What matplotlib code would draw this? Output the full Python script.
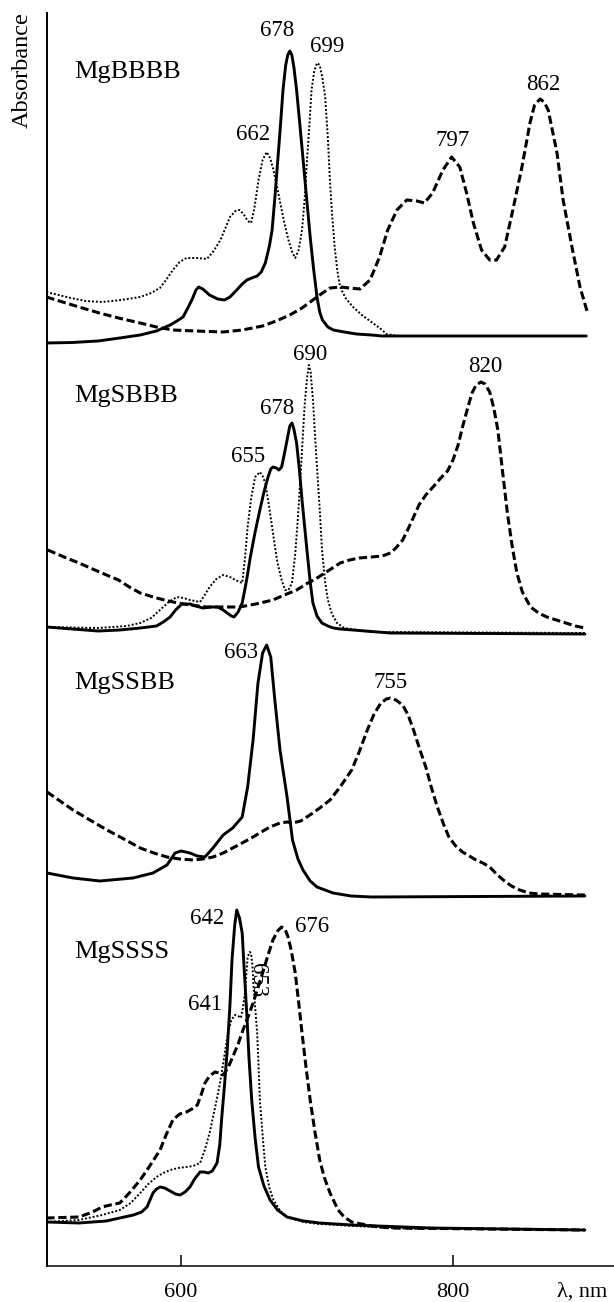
import matplotlib
matplotlib.use("Agg")
import matplotlib.pyplot as plt
import numpy as np

plt.rcParams['font.family'] = ['Liberation Serif', 'DejaVu Serif']

# ---------------- data (wavelength nm, relative absorbance) ----------------
compounds = ["MgBBBB", "MgSBBB", "MgSSBB", "MgSSSS"]

# MgBBBB
p1_solid_wl = [501, 520, 539, 555, 570, 582, 592, 597, 601.5, 605, 608, 611, 613, 616, 621, 627, 632, 636, 641, 645, 648.5, 652, 656, 659, 662, 665, 667, 669, 671, 673, 675, 677, 678.5, 680, 681.5, 683, 685, 687.5, 690, 692.5, 695, 697.5, 700, 702, 704, 708, 712, 720, 729, 740, 748, 898]
p1_solid_ab = [0.00, 0.005, 0.02, 0.05, 0.08, 0.12, 0.18, 0.22, 0.26, 0.35, 0.43, 0.53, 0.56, 0.54, 0.48, 0.44, 0.43, 0.46, 0.53, 0.59, 0.63, 0.65, 0.67, 0.71, 0.80, 0.97, 1.13, 1.45, 1.80, 2.15, 2.53, 2.78, 2.88, 2.92, 2.88, 2.76, 2.53, 2.17, 1.80, 1.43, 1.06, 0.74, 0.46, 0.31, 0.23, 0.16, 0.13, 0.11, 0.09, 0.08, 0.07, 0.07]
p1_dot_wl = [501, 510, 519, 530, 542, 556, 570, 578, 584.5, 589, 594, 599, 604, 612, 619, 624, 629, 633, 636, 640, 643, 646, 649, 651.5, 654, 657, 660, 663, 665.5, 668, 670.5, 673, 676, 679, 682, 684, 686.5, 689, 691, 692.5, 694.5, 696, 698, 700, 702, 704, 706, 708, 709.5, 711, 713, 715, 717, 721, 726.5, 733, 741, 747, 751, 760, 880]
p1_dot_ab = [0.51, 0.48, 0.45, 0.42, 0.41, 0.43, 0.46, 0.50, 0.55, 0.63, 0.73, 0.81, 0.85, 0.85, 0.84, 0.92, 1.03, 1.16, 1.26, 1.32, 1.33, 1.29, 1.22, 1.20, 1.35, 1.63, 1.83, 1.91, 1.85, 1.73, 1.57, 1.40, 1.20, 1.03, 0.90, 0.85, 0.93, 1.13, 1.45, 1.80, 2.20, 2.53, 2.72, 2.80, 2.78, 2.65, 2.46, 2.05, 1.63, 1.30, 0.96, 0.72, 0.56, 0.45, 0.36, 0.28, 0.20, 0.14, 0.09, 0.07, 0.07]
p1_dash_wl = [501, 513, 525, 540, 554, 570, 582, 594, 611, 631, 645, 660, 670, 680, 689, 697, 703, 709.6, 717, 724, 731.6, 739, 746, 752, 758.8, 766, 773.5, 779, 785, 792.6, 799, 805, 810, 815, 821, 827, 832, 838, 844, 850.7, 856.6, 860, 864, 867, 870, 876.5, 881, 887.5, 893.4, 899]
p1_dash_ab = [0.46, 0.41, 0.36, 0.30, 0.25, 0.20, 0.16, 0.13, 0.12, 0.11, 0.13, 0.17, 0.22, 0.28, 0.35, 0.43, 0.49, 0.55, 0.56, 0.55, 0.54, 0.63, 0.86, 1.13, 1.33, 1.43, 1.42, 1.40, 1.50, 1.73, 1.86, 1.76, 1.50, 1.20, 0.93, 0.83, 0.83, 0.96, 1.33, 1.76, 2.20, 2.38, 2.44, 2.41, 2.33, 1.90, 1.43, 0.96, 0.56, 0.30]

# MgSBBB
p2_solid_wl = [501, 520, 539, 555, 570, 582, 587, 592, 596, 600.7, 606.6, 611, 616, 622, 627, 631, 634, 637, 639, 642, 645, 648, 651, 654.5, 658, 661, 664, 666, 667.6, 670, 672, 674, 676, 678, 680, 681.6, 683, 685, 687, 689, 692.6, 695, 697, 700, 703.6, 708, 712, 717, 754, 897]
p2_solid_ab = [0.07, 0.05, 0.03, 0.04, 0.06, 0.08, 0.12, 0.17, 0.24, 0.30, 0.30, 0.28, 0.26, 0.27, 0.27, 0.24, 0.21, 0.18, 0.17, 0.22, 0.31, 0.52, 0.77, 1.02, 1.24, 1.42, 1.57, 1.65, 1.67, 1.66, 1.64, 1.67, 1.80, 1.94, 2.08, 2.11, 2.05, 1.91, 1.65, 1.34, 0.84, 0.52, 0.31, 0.18, 0.11, 0.08, 0.06, 0.05, 0.01, 0.00]
p2_dot_wl = [501, 539, 560, 570, 578, 584.5, 591, 597, 602, 606.6, 614, 617, 621, 626, 631, 636, 640, 645, 647, 649, 651.5, 654.5, 658, 660, 662, 664.5, 667, 669, 671, 674, 676.5, 679, 681.6, 684, 686, 688, 689.7, 691, 692.6, 694, 695.3, 697, 698.5, 700, 702, 703.7, 706, 708, 711, 714.7, 720, 740, 897]
p2_dot_ab = [0.07, 0.06, 0.08, 0.11, 0.16, 0.24, 0.32, 0.37, 0.36, 0.34, 0.32, 0.38, 0.47, 0.55, 0.59, 0.57, 0.54, 0.51, 0.75, 1.07, 1.35, 1.57, 1.62, 1.58, 1.51, 1.30, 1.07, 0.88, 0.71, 0.54, 0.44, 0.44, 0.51, 0.80, 1.17, 1.60, 2.01, 2.30, 2.55, 2.69, 2.62, 2.35, 2.00, 1.67, 1.25, 0.84, 0.52, 0.34, 0.20, 0.11, 0.06, 0.02, 0.01]
p2_dash_wl = [502, 514, 525, 540, 554, 562, 570, 582, 594, 606, 619, 631, 643, 655, 667.6, 676, 685, 692, 700, 708, 717, 724, 731, 740, 748, 754, 758, 763, 767, 771, 775, 780, 786, 791, 796, 800, 804, 807, 811, 814, 817, 820.6, 823.5, 827, 830, 833, 836.5, 840, 843.5, 847, 851, 857, 863, 869, 876, 883, 890, 897]
p2_dash_ab = [0.84, 0.77, 0.71, 0.62, 0.54, 0.47, 0.41, 0.36, 0.32, 0.29, 0.27, 0.27, 0.27, 0.30, 0.34, 0.39, 0.44, 0.50, 0.56, 0.63, 0.71, 0.74, 0.76, 0.77, 0.78, 0.81, 0.86, 0.94, 1.05, 1.17, 1.29, 1.39, 1.48, 1.56, 1.63, 1.74, 1.90, 2.07, 2.27, 2.41, 2.49, 2.52, 2.50, 2.42, 2.26, 2.04, 1.62, 1.21, 0.88, 0.61, 0.42, 0.27, 0.21, 0.17, 0.14, 0.11, 0.08, 0.06]

# MgSSBB
p3_solid_wl = [501.5, 520.6, 540.4, 564.7, 579.4, 589.7, 595.6, 600, 606.6, 612, 617.6, 623.5, 631, 638, 645, 649, 653, 656.6, 660, 663, 666, 669, 672.8, 678, 682, 686, 689.7, 695, 700, 711.8, 725, 740, 897]
p3_solid_ab = [0.24, 0.19, 0.16, 0.19, 0.24, 0.32, 0.44, 0.46, 0.44, 0.41, 0.40, 0.49, 0.62, 0.69, 0.80, 1.10, 1.57, 2.14, 2.44, 2.52, 2.40, 1.97, 1.47, 1.00, 0.57, 0.38, 0.27, 0.16, 0.10, 0.04, 0.01, 0.00, 0.01]
p3_dash_wl = [501.5, 510, 520.6, 533, 545.6, 558, 570, 580, 589.7, 599, 609, 616, 623.5, 631, 638, 645, 653, 659, 665.4, 672.8, 678, 682, 688, 697, 703, 709.6, 717, 725.5, 731, 737, 742, 747, 751, 754, 758, 763, 767, 771, 775.5, 780, 784, 788.5, 793, 797, 802, 807, 812, 817, 822, 827, 832, 837, 843, 849, 856, 863, 897]
p3_dash_ab = [1.05, 0.97, 0.87, 0.77, 0.67, 0.58, 0.49, 0.44, 0.40, 0.38, 0.37, 0.38, 0.40, 0.44, 0.49, 0.54, 0.60, 0.65, 0.70, 0.74, 0.75, 0.74, 0.76, 0.84, 0.90, 0.97, 1.10, 1.27, 1.45, 1.67, 1.83, 1.94, 1.98, 1.99, 1.97, 1.92, 1.82, 1.67, 1.48, 1.30, 1.10, 0.90, 0.73, 0.60, 0.51, 0.45, 0.41, 0.37, 0.34, 0.30, 0.23, 0.17, 0.11, 0.07, 0.04, 0.03, 0.02]

# MgSSSS
p4_solid_wl = [501, 525, 545, 555, 565, 571, 575, 579.4, 582, 584.6, 588, 592, 596, 599.3, 603, 606.6, 610, 614, 617, 620, 623, 626.5, 628.5, 630, 632, 634, 636, 637.5, 639.5, 641, 643, 645, 646.5, 648.5, 650, 652, 654.5, 657, 661, 665.5, 671, 678, 690, 702, 725.5, 783, 897]
p4_solid_ab = [0.08, 0.07, 0.09, 0.12, 0.15, 0.18, 0.23, 0.37, 0.41, 0.43, 0.42, 0.39, 0.36, 0.35, 0.38, 0.43, 0.51, 0.58, 0.58, 0.57, 0.59, 0.67, 0.85, 1.13, 1.45, 1.80, 2.25, 2.70, 3.05, 3.20, 3.12, 2.97, 2.60, 2.13, 1.72, 1.30, 0.92, 0.63, 0.44, 0.30, 0.20, 0.13, 0.09, 0.07, 0.05, 0.02, 0.00]
p4_dot_wl = [501, 525, 542, 555, 563, 570, 576, 582, 587, 592, 598, 604, 609, 614, 617.5, 621, 625, 628.7, 632, 634.6, 637, 639.7, 642, 644, 645.5, 647, 648, 649, 650.5, 651.5, 652.5, 653.5, 655, 656, 657, 658, 660, 662, 665, 668, 673, 678, 690, 702, 754, 780]
p4_dot_ab = [0.08, 0.10, 0.15, 0.20, 0.27, 0.37, 0.46, 0.53, 0.57, 0.60, 0.62, 0.63, 0.64, 0.67, 0.80, 0.97, 1.22, 1.47, 1.75, 1.97, 2.10, 2.15, 2.14, 2.12, 2.22, 2.37, 2.55, 2.73, 2.78, 2.77, 2.65, 2.40, 2.15, 1.97, 1.65, 1.30, 0.95, 0.63, 0.42, 0.30, 0.19, 0.13, 0.08, 0.06, 0.02, 0.01]
p4_dash_wl = [501, 525, 535, 542, 548, 555, 562, 570, 577, 584.6, 589, 594, 599, 604, 608, 612, 615, 617.6, 621, 625, 628, 631, 634.5, 638, 642, 645.6, 649, 653, 656.5, 660, 664, 667.6, 671, 674, 676.5, 678.7, 681, 684, 686.5, 689, 692, 695, 698.5, 702, 705.5, 709.6, 715.5, 720, 725.5, 740, 754, 897]
p4_dash_ab = [0.12, 0.13, 0.18, 0.23, 0.25, 0.27, 0.37, 0.50, 0.64, 0.80, 0.95, 1.10, 1.16, 1.18, 1.21, 1.25, 1.36, 1.47, 1.54, 1.58, 1.57, 1.55, 1.62, 1.73, 1.86, 2.00, 2.12, 2.27, 2.42, 2.57, 2.75, 2.90, 2.99, 3.03, 3.01, 2.93, 2.80, 2.57, 2.28, 1.97, 1.62, 1.30, 0.98, 0.70, 0.52, 0.37, 0.20, 0.13, 0.08, 0.04, 0.02, 0.00]

# peak labels
p1_labels = ["678", "699", "662", "797", "862"]
p2_labels = ["690", "820", "678", "655"]
p3_labels = ["663", "755"]
p4_labels = ["642", "676", "641", "653"]

xticks = [600, 800]

# ---------------- layout ----------------
W, H = 614, 1302
fig = plt.figure(figsize=(W / 100, H / 100), dpi=100)
ax = fig.add_axes([46.5 / W, (H - 1266) / H, 1 - 46.5 / W, (1266 - 13) / H])
ax.set_xlim(501.1, 918.4)
ax.set_ylim(0, 1253)

offsets = [923, 632, 369, 36]
scale = 100.0

solid_kw = dict(color='black', lw=2.1, solid_joinstyle='round', solid_capstyle='round')
dash_kw = dict(color='black', lw=2.2, linestyle=(0, (2.7, 1.2)))
dot_kw = dict(color='black', lw=1.4, linestyle=(0, (1.0, 1.0)))

panels = [
    [(p1_dot_wl, p1_dot_ab, dot_kw), (p1_dash_wl, p1_dash_ab, dash_kw), (p1_solid_wl, p1_solid_ab, solid_kw)],
    [(p2_dot_wl, p2_dot_ab, dot_kw), (p2_dash_wl, p2_dash_ab, dash_kw), (p2_solid_wl, p2_solid_ab, solid_kw)],
    [(p3_dash_wl, p3_dash_ab, dash_kw), (p3_solid_wl, p3_solid_ab, solid_kw)],
    [(p4_dot_wl, p4_dot_ab, dot_kw), (p4_dash_wl, p4_dash_ab, dash_kw), (p4_solid_wl, p4_solid_ab, solid_kw)],
]
for off, curves in zip(offsets, panels):
    for wl, ab, kw in curves:
        ax.plot(wl, off + scale * np.asarray(ab), **kw)

name_fs = 19
num_fs = 16.5
name_pos = [(521.3, 1194), (521.3, 870), (521.3, 583), (521.3, 314)]
for name, (x, y) in zip(compounds, name_pos):
    ax.text(x, y, name, fontsize=name_fs, ha='left', va='center')

label_pos = {
    0: [(670.6, 1235), (707.4, 1219), (652.9, 1131), (800, 1125), (866.2, 1182)],
    1: [(694.9, 912), (823.5, 899), (670.6, 858), (649.3, 810)],
    2: [(644.1, 614), (754.4, 584)],
    3: [(619.1, 347), (696.3, 339), (617.6, 262), (656.6, 286)],
}
all_labels = [p1_labels, p2_labels, p3_labels, p4_labels]
for i, labs in enumerate(all_labels):
    for j, t in enumerate(labs):
        x, y = label_pos[i][j]
        rot = -90 if (i == 3 and t == "653") else 0
        ax.text(x, y, t, fontsize=num_fs, ha='center', va='center', rotation=rot)

# axes styling
for s in ['top', 'right']:
    ax.spines[s].set_visible(False)
ax.spines['left'].set_linewidth(1.4)
ax.spines['bottom'].set_linewidth(1.1)
ax.set_yticks([])
ax.set_xticks(xticks)
ax.set_xticklabels([str(v) for v in xticks])
ax.tick_params(axis='x', direction='in', length=8, width=1.1, labelsize=16, pad=12)

fig.text(557 / W, 1 - 1292 / H, "λ, nm", fontsize=16, ha='left', va='center')
fig.text(22 / W, 1 - 70 / H, "Absorbance", fontsize=17.5, rotation=90, ha='center', va='center')

fig.savefig("out.png", dpi=100)
